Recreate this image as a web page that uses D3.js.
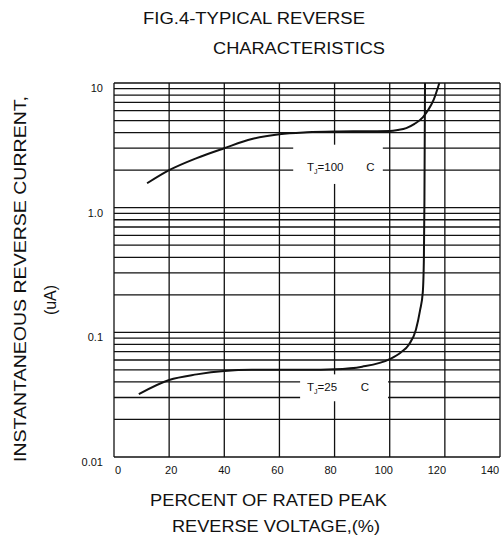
<!DOCTYPE html>
<html>
<head>
<meta charset="utf-8">
<script src="https://cdn.jsdelivr.net/npm/d3@7"></script>
<style>
  body { margin: 0; background: #fff; }
  svg { display: block; }
  text { font-family: "Liberation Sans", Arial, sans-serif; fill: #111; }
</style>
</head>
<body>
<svg id="chart" width="504" height="541"></svg>
<script>
// percent of rated peak reverse voltage
const xTicks = [0, 20, 40, 60, 80, 100, 120, 140];
const yTicks = [10, 1, 0.1, 0.01];
const yTickLabels = ["10", "1.0", "0.1", "0.01"];

// Tj = 100 C
const hotX = [12, 20, 30, 40, 50, 60, 70, 80, 90, 100, 103, 106, 109, 112, 114, 116, 118];
const hotI = [1.57, 2.0, 2.5, 3.0, 3.55, 3.88, 4.02, 4.08, 4.1, 4.12, 4.2, 4.35, 4.7, 5.3, 6.1, 7.4, 10];

// Tj = 25 C
const coldX = [9, 20, 30, 40, 50, 60, 70, 80, 90, 100, 104, 107, 109.5, 111, 112, 112.4, 112.6, 112.8];
const coldI = [0.032, 0.0415, 0.046, 0.049, 0.05, 0.05, 0.05, 0.0505, 0.053, 0.061, 0.069, 0.08, 0.105, 0.15, 0.21, 0.4, 1.2, 10];

const svg = d3.select("#chart");

const x = d3.scaleLinear().domain([0, 140]).range([114, 500]);
const y = d3.scaleLog().domain([0.01, 10]).range([457, 83]);
// tick numbers in the original sit on a slightly squeezed scale
const xLab = d3.scaleLinear().domain([0, 140]).range([118, 490]);

const grid = svg.append("g").attr("stroke", "#111").attr("stroke-width", 1.3);

grid.selectAll(".h")
  .data(y.ticks())
  .join("line")
  .attr("x1", x(0)).attr("x2", x(140))
  .attr("y1", d => y(d)).attr("y2", d => y(d));

grid.selectAll(".v")
  .data(xTicks)
  .join("line")
  .attr("x1", d => x(d)).attr("x2", d => x(d))
  .attr("y1", y(0.01)).attr("y2", y(10));

// white label boxes cut the grid
const labels = [
  {name: "100", box: [65, 97.5, 3.2, 1.55], base: 1.97, c: 93},
  {name: "25", box: [67.5, 99.4, 0.046, 0.028], base: 0.0338, c: 91}
];

labels.forEach(l => {
  svg.append("rect")
    .attr("x", x(l.box[0])).attr("width", x(l.box[1]) - x(l.box[0]))
    .attr("y", y(l.box[2])).attr("height", y(l.box[3]) - y(l.box[2]))
    .attr("fill", "#fff");
  const t = svg.append("text")
    .attr("x", x(70)).attr("y", y(l.base))
    .attr("font-size", 11.5);
  t.append("tspan").text("T");
  t.append("tspan").attr("font-size", 7).attr("dy", 3).text("J");
  t.append("tspan").attr("dy", -3).text("=" + l.name);
  svg.append("text")
    .attr("x", x(l.c)).attr("y", y(l.base))
    .attr("text-anchor", "middle")
    .attr("font-size", 11.5)
    .text("C");
});

const line = d3.line()
  .x(d => x(d[0]))
  .y(d => y(d[1]))
  .curve(d3.curveMonotoneX);

[[hotX, hotI], [coldX, coldI]].forEach(([xs, is]) => {
  svg.append("path")
    .datum(xs.map((v, i) => [v, is[i]]))
    .attr("d", line)
    .attr("fill", "none")
    .attr("stroke", "#111")
    .attr("stroke-width", 2);
});

// tick labels
svg.selectAll(".xl")
  .data(xTicks)
  .join("text")
  .attr("x", d => xLab(d))
  .attr("y", 474)
  .attr("text-anchor", "middle")
  .attr("font-size", 11)
  .text(d => d);

svg.selectAll(".yl")
  .data(yTicks)
  .join("text")
  .attr("x", 103)
  .attr("y", d => y(d) + 5)
  .attr("dominant-baseline", "central")
  .attr("text-anchor", "end")
  .attr("font-size", 11)
  .text((d, i) => yTickLabels[i]);

// titles
svg.append("text").attr("x", 143).attr("y", 23.5)
  .attr("font-size", 16).attr("textLength", 222).attr("lengthAdjust", "spacingAndGlyphs")
  .text("FIG.4-TYPICAL REVERSE");
svg.append("text").attr("x", 213).attr("y", 53.5)
  .attr("font-size", 16).attr("textLength", 172).attr("lengthAdjust", "spacingAndGlyphs")
  .text("CHARACTERISTICS");

svg.append("text").attr("x", 150).attr("y", 506)
  .attr("font-size", 16).attr("textLength", 237).attr("lengthAdjust", "spacingAndGlyphs")
  .text("PERCENT OF RATED PEAK");
svg.append("text").attr("x", 172).attr("y", 532)
  .attr("font-size", 16).attr("textLength", 208).attr("lengthAdjust", "spacingAndGlyphs")
  .text("REVERSE VOLTAGE,(%)");

svg.append("text")
  .attr("transform", "translate(26,279) rotate(-90)")
  .attr("text-anchor", "middle")
  .attr("font-size", 17)
  .attr("textLength", 366).attr("lengthAdjust", "spacingAndGlyphs")
  .text("INSTANTANEOUS REVERSE CURRENT,");
svg.append("text")
  .attr("transform", "translate(56,300) rotate(-90)")
  .attr("text-anchor", "middle")
  .attr("font-size", 16)
  .text("(uA)");
</script>
</body>
</html>
